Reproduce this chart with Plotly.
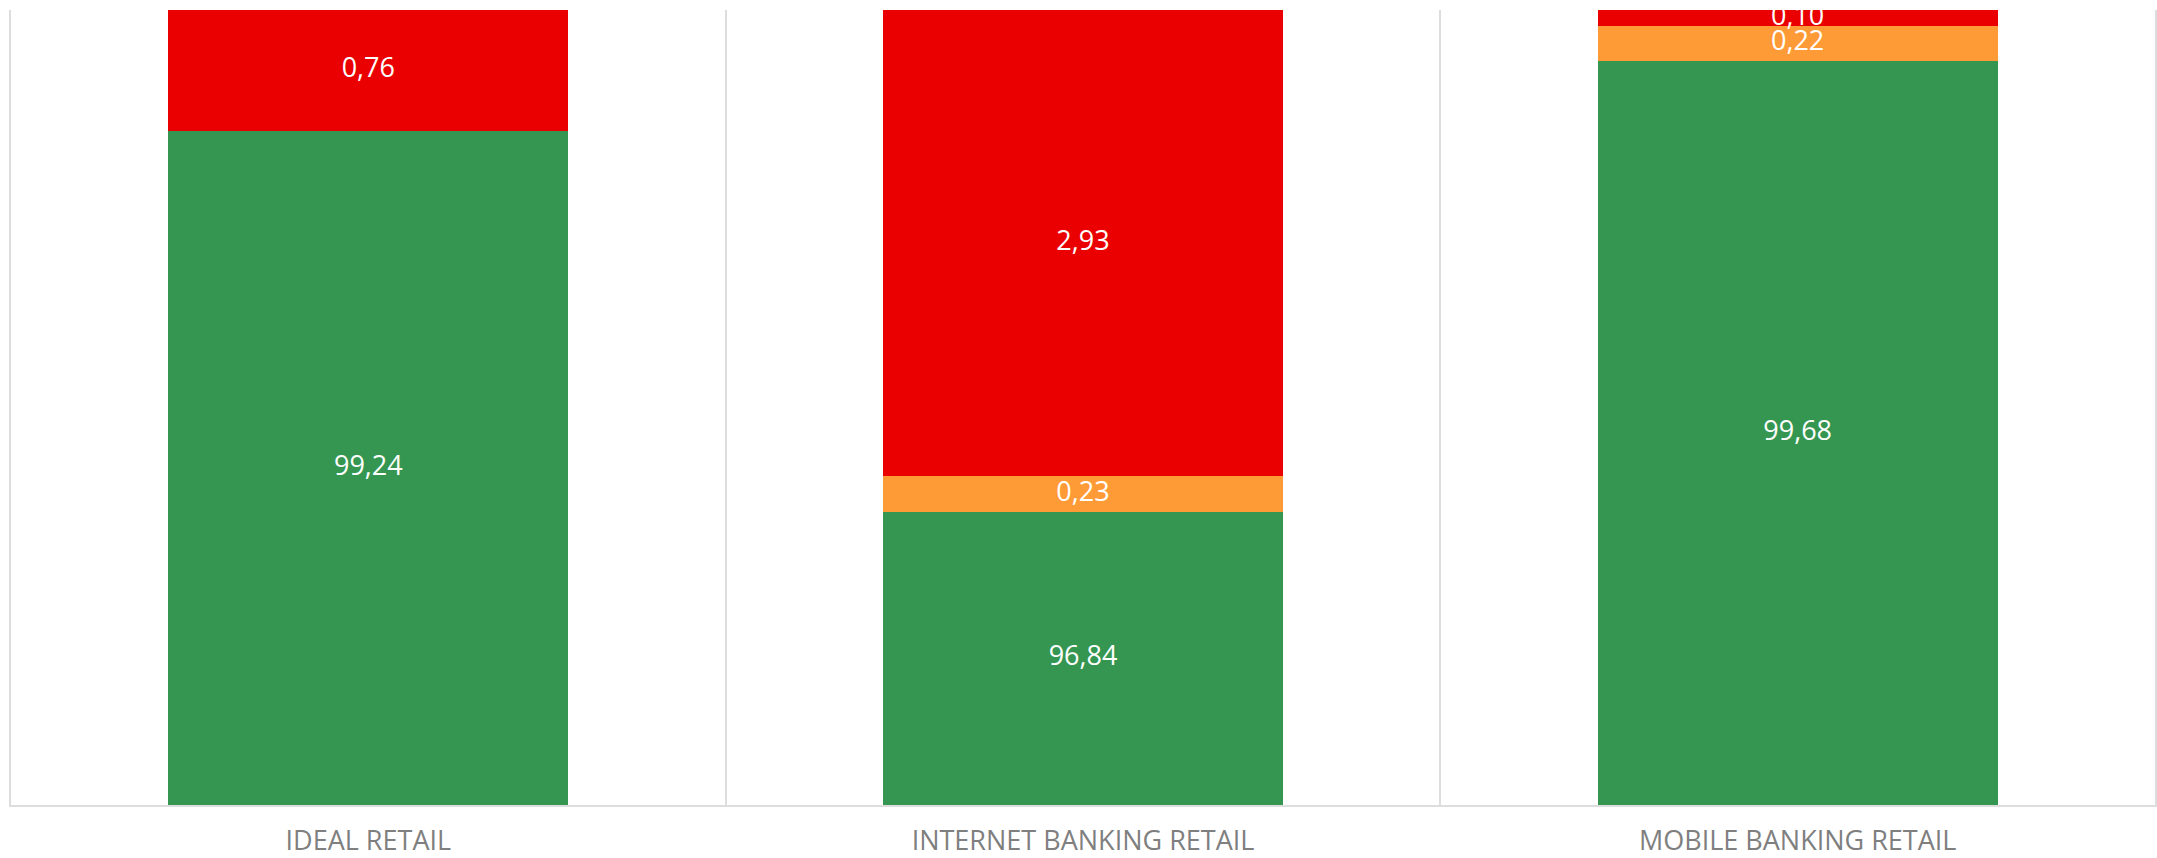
import plotly.graph_objects as go

categories = ["IDEAL RETAIL", "INTERNET BANKING RETAIL", "MOBILE BANKING RETAIL"]
green_vals = [99.24, 96.84, 99.68]
orange_vals = [None, 0.23, 0.22]
red_vals = [0.76, 2.93, 0.10]

series = [
    ("Green", green_vals, "#359651"),
    ("Orange", orange_vals, "#FF9B37"),
    ("Red", red_vals, "#EA0000"),
]

Y_MIN, Y_MAX = 95, 100

fig = go.Figure()
for name, vals, color in series:
    fig.add_trace(go.Bar(
        x=categories, y=vals, name=name, marker=dict(color=color, line=dict(width=0)),
        hoverinfo="skip",
    ))

# labels at the centre of the visible part of each segment
lx, ly, lt = [], [], []
for i, cat in enumerate(categories):
    base = 0.0
    for name, vals, color in series:
        v = vals[i]
        if v is None:
            continue
        lo, hi = base, base + v
        vis_lo = max(lo, Y_MIN)
        lx.append(cat)
        ly.append((vis_lo + min(hi, Y_MAX)) / 2)
        lt.append(f"{v:.2f}".replace(".", ","))
        base = hi

fig.add_trace(go.Scatter(
    x=lx, y=ly, text=lt, mode="text", cliponaxis=False,
    textfont=dict(color="white", size=27, family="Open Sans"),
    hoverinfo="skip", showlegend=False,
))

fig.update_layout(
    barmode="stack",
    bargap=0.44,
    width=2157, height=858,
    margin=dict(l=11, r=2, t=10, b=53),
    plot_bgcolor="white", paper_bgcolor="white",
    showlegend=False,
    font=dict(family="Open Sans"),
)
fig.update_xaxes(
    type="category",
    automargin=False,
    tickson="boundaries",
    showgrid=True, gridcolor="#dddddd", gridwidth=2,
    showline=True, linecolor="#dddddd", linewidth=2,
    ticks="", ticklabelstandoff=11,
    tickfont=dict(size=27, color="#7f7f7f", family="Open Sans"),
    zeroline=False,
)
fig.update_yaxes(
    range=[Y_MIN, Y_MAX], automargin=False,
    showticklabels=False, ticks="", showgrid=False, zeroline=False,
    showline=True, mirror=True, linecolor="#dddddd", linewidth=2,
)

fig.write_html("out.html")
